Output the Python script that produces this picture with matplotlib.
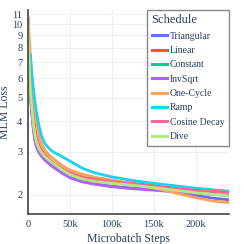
import matplotlib
matplotlib.use("Agg")
import matplotlib.pyplot as plt
from matplotlib.ticker import FixedLocator, NullLocator, FixedFormatter
import numpy as np

plt.rcParams['font.family'] = ['Liberation Serif', 'DejaVu Serif']

steps = [0, 500, 1000, 2000, 3000, 4000, 6000, 8000, 10000, 13000, 16000,
         20000, 25000, 30000, 40000, 50000, 65000, 80000, 100000, 125000,
         150000, 175000, 200000, 220000, 240000]

triangular = [10.5, 8.6, 7.3, 5.9, 5.1, 4.6, 3.9, 3.4, 3.2, 3.02, 2.91,
              2.8, 2.7, 2.62, 2.48, 2.37, 2.27, 2.22, 2.17, 2.13,
              2.11, 2.06, 1.99, 1.94, 1.91]
linear = [10.5, 9.2, 8.0, 6.6, 5.7, 5.1, 4.3, 3.8, 3.45, 3.2, 3.05,
          2.92, 2.8, 2.71, 2.56, 2.45, 2.36, 2.31, 2.28, 2.23,
          2.18, 2.13, 2.09, 2.07, 2.05]
constant = [10.5, 8.7, 7.4, 6.0, 5.2, 4.7, 4.0, 3.5, 3.27, 3.08, 2.97,
            2.86, 2.76, 2.68, 2.53, 2.42, 2.33, 2.28, 2.24, 2.20,
            2.16, 2.12, 2.09, 2.07, 2.06]
invsqrt = [10.5, 8.5, 7.2, 5.8, 5.0, 4.5, 3.8, 3.35, 3.15, 2.98, 2.88,
           2.78, 2.68, 2.6, 2.46, 2.35, 2.26, 2.21, 2.16, 2.12,
           2.09, 2.06, 2.03, 2.01, 1.99]
one_cycle = [10.5, 10.0, 9.5, 8.3, 7.2, 6.3, 5.2, 4.5, 4.0, 3.5, 3.25,
             3.05, 2.92, 2.82, 2.65, 2.53, 2.43, 2.36, 2.30, 2.22,
             2.14, 2.04, 1.95, 1.89, 1.86]
ramp = [np.nan, np.nan, np.nan, np.nan, 7.5, 6.6, 5.6, 4.9, 4.4, 3.85, 3.5,
        3.25, 3.1, 3.0, 2.88, 2.75, 2.57, 2.46, 2.37, 2.29,
        2.23, 2.18, 2.13, 2.10, 2.07]
cosine = [10.5, 9.0, 7.8, 6.4, 5.5, 4.95, 4.2, 3.7, 3.4, 3.15, 3.02,
          2.9, 2.79, 2.7, 2.56, 2.46, 2.36, 2.31, 2.27, 2.22,
          2.17, 2.12, 2.09, 2.07, 2.05]
dive = [10.6, 8.8, 7.5, 6.1, 5.3, 4.8, 4.05, 3.55, 3.3, 3.1, 2.98,
        2.87, 2.77, 2.69, 2.54, 2.42, 2.32, 2.27, 2.23, 2.19,
        2.14, 2.09, 2.04, 2.01, 1.98]

names = ["Triangular", "Linear", "Constant", "InvSqrt", "One-Cycle",
         "Ramp", "Cosine Decay", "Dive"]
series = [triangular, linear, constant, invsqrt, one_cycle, ramp, cosine, dive]
colors = ["#636EFA", "#EF553B", "#00CC96", "#AB63FA", "#FFA15A",
          "#19D3F3", "#FF6692", "#B6E880"]

xticks = [0, 50000, 100000, 150000, 200000]
xticklabels = ["0", "50k", "100k", "150k", "200k"]
yticks = [2, 3, 4, 5, 6, 7, 8, 9, 10, 11]

txt = "#2a3f5f"
W = 244
fig = plt.figure(figsize=(W / 100, W / 100), dpi=100)
ax = fig.add_axes([28 / W, 1 - 214 / W, (229 - 28) / W, (214 - 10) / W])

for name, vals, c in zip(names, series, colors):
    ax.plot(steps, vals, color=c, lw=2.0, label=name)

ax.set_yscale('log')
ax.set_ylim(1.67, 11.43)
ax.set_xlim(0, 240000)
ax.yaxis.set_major_locator(FixedLocator(yticks))
ax.yaxis.set_major_formatter(FixedFormatter([str(v) for v in yticks]))
ax.yaxis.set_minor_locator(NullLocator())
ax.set_xticks(xticks)
ax.set_xticklabels(xticklabels)

ax.grid(True, color="#eef0f4", lw=0.8)
ax.set_axisbelow(True)
for s in ['top', 'right']:
    ax.spines[s].set_visible(False)
for s in ['left', 'bottom']:
    ax.spines[s].set_color("#444444")
    ax.spines[s].set_linewidth(1.2)
ax.tick_params(length=0, labelsize=7.5, colors=txt, pad=4)
ax.set_xlabel("Microbatch Steps", fontsize=8.5, color=txt, labelpad=3)
ax.set_ylabel("MLM Loss", fontsize=8.5, color=txt, labelpad=1)

leg = ax.legend(title="Schedule", loc='upper right',
                bbox_to_anchor=(1.0, 1.0), fontsize=7, title_fontsize=9,
                frameon=True, fancybox=False, handlelength=1.6,
                handletextpad=0.3, labelspacing=0.55, borderpad=0.45,
                borderaxespad=0.0)
leg._legend_box.align = "left"
frame = leg.get_frame()
frame.set_edgecolor("#888888")
frame.set_linewidth(1.0)
frame.set_alpha(1.0)
for t in leg.get_texts():
    t.set_color(txt)
leg.get_title().set_color(txt)
for h in leg.get_lines():
    h.set_linewidth(2.2)

fig.savefig("out.png", dpi=100)
